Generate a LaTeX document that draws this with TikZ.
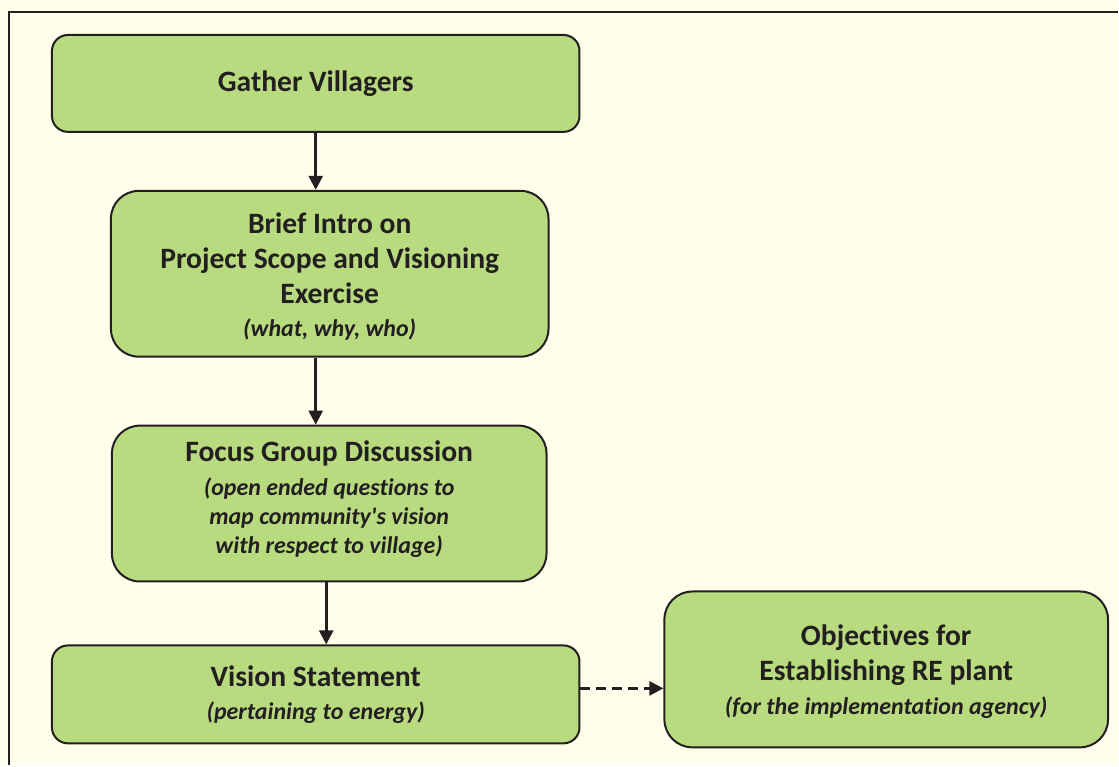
\documentclass[tikz,border=0pt]{standalone}
\usepackage{fontspec}
\setmainfont{Carlito}[Ligatures=NoCommon]
\usetikzlibrary{arrows.meta}
\definecolor{paper}{HTML}{FFFFEB}
\definecolor{leaf}{HTML}{B9DB80}
\definecolor{ink}{HTML}{231F20}
\newcommand{\note}[1]{{\fontsize{12}{14.5}\selectfont\itshape #1}}

\begin{document}
\begin{tikzpicture}[x=0.5pt,y=-0.5pt]
\tikzset{
  stepbox/.style={
    draw=ink,
    line width=1pt,
    fill=leaf,
    text=ink,
    align=center,
    anchor=center,
    inner sep=0pt,
    font=\fontsize{14.8}{17.5}\selectfont\bfseries
  },
  flow/.style={draw=ink,line width=1.3pt,-{Triangle[length=7pt,width=7pt]}}
};

% page
\fill[paper] (0,0) rectangle (1119,766);
\draw[ink,line width=1pt] (1119,12) -- (9,12) -- (9,766);

\node[stepbox,rounded corners=8pt,minimum width=264pt,minimum height=48.5pt]
  (gather) at (316,83.5) {Gather Villagers};
\node[stepbox,rounded corners=14pt,minimum width=219pt,minimum height=83pt]
  (brief) at (330,274) {\rule{0pt}{13pt}Brief Intro on\\Project Scope and Visioning\\Exercise\\[-1pt]\note{(what, why, who)}};
\node[stepbox,rounded corners=14pt,minimum width=217.5pt,minimum height=78pt]
  (focus) at (329.5,504) {Focus Group Discussion\\[-0.5pt]\note{(open ended questions to}\\[-3pt]\note{map community\textquotesingle s vision}\\[-3pt]\note{with respect to village)\rule[-6pt]{0pt}{0pt}}};
\node[stepbox,rounded corners=8pt,minimum width=264pt,minimum height=49pt]
  (vision) at (316,695) {Vision Statement\\[-1pt]\note{(pertaining to energy)}};
\node[stepbox,rounded corners=14pt,minimum width=222pt,minimum height=78pt]
  (goals) at (887,670) {\rule{0pt}{13pt}Objectives for\\Establishing RE plant\\[-0.5pt]\note{(for the implementation agency)}};

\draw[flow] (gather) -- (gather |- brief.north);
\draw[flow] (brief.south -| gather) -- (focus.north -| gather);
\draw[flow] ([xshift=-1.5pt]focus.south) -- ([xshift=-1.5pt]focus.south |- vision.north);
\draw[flow,dash pattern=on 5pt off 3pt] ([yshift=3pt]vision.east) -- ([yshift=3pt]vision.east -| goals.west);
\end{tikzpicture}
\end{document}
